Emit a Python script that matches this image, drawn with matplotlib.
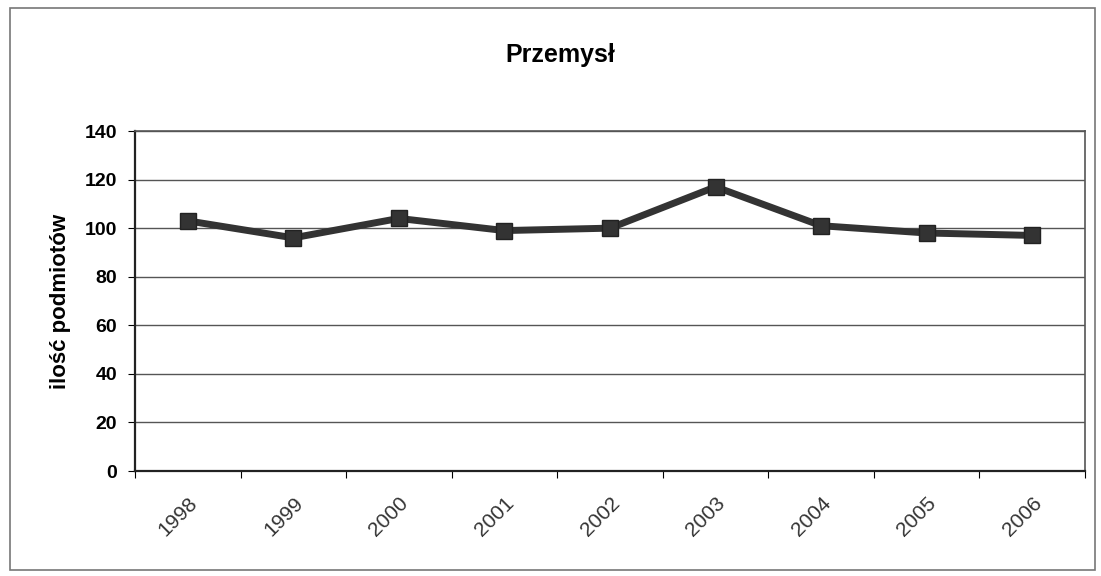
#!/usr/bin/env python3
"""
Wykres liniowy: Przemysł - ilość podmiotów 1998-2006
"""

import matplotlib
matplotlib.use("Agg")
import matplotlib.pyplot as plt
from matplotlib.patches import Rectangle

# dane
years = ["1998", "1999", "2000", "2001", "2002", "2003", "2004", "2005", "2006"]
values = [103, 96, 104, 99, 100, 117, 101, 98, 97]
y_ticks = [0, 20, 40, 60, 80, 100, 120, 140]

plt.rcParams['font.family'] = ['Liberation Sans', 'DejaVu Sans']

fig = plt.figure(figsize=(11.01, 5.76), dpi=100)
ax = fig.add_axes([135 / 1101, 1 - 471 / 576, 950 / 1101, 340 / 576])

# ramka całego wykresu
fig.patches.append(Rectangle((10 / 1101, 1 - 570 / 576), 1085 / 1101, 562 / 576,
                             transform=fig.transFigure, fill=False,
                             edgecolor='#777777', linewidth=1.2))

# oś kategorii w stylu Excela: punkty pomiędzy znacznikami
x = [i + 0.5 for i in range(len(years))]
ax.plot(x, values, color='#333333', linewidth=5, marker='s', markersize=12,
        markerfacecolor='#333333', markeredgecolor='#222222', zorder=3)

ax.set_xlim(0, len(years))
ax.set_ylim(0, 140)
ax.set_yticks(y_ticks)
ax.set_yticklabels([str(v) for v in y_ticks], fontsize=14, fontweight='bold')
ax.yaxis.grid(True, color='#555555', linewidth=1.0)
ax.set_axisbelow(True)

ax.set_xticks(range(len(years) + 1))
ax.set_xticklabels([])
ax.set_xticks(x, minor=True)
ax.set_xticklabels(years, minor=True, rotation=45, ha='right',
                   rotation_mode='anchor', fontsize=15, color='#333333')
ax.tick_params(axis='x', which='minor', length=0, pad=16)
ax.tick_params(axis='x', which='major', length=5, direction='out')
ax.tick_params(axis='y', length=5, direction='out', pad=8)

for side in ['left', 'bottom']:
    ax.spines[side].set_linewidth(1.6)
    ax.spines[side].set_color('#222222')
for side in ['top', 'right']:
    ax.spines[side].set_linewidth(1.2)
    ax.spines[side].set_color('#555555')

ax.set_ylabel('ilość podmiotów', fontsize=16, fontweight='bold', labelpad=10)
fig.text(560 / 1101, 1 - 55 / 576, 'Przemysł', ha='center', va='center',
         fontsize=18, fontweight='bold')

fig.savefig('out.png', dpi=100, facecolor='white')
